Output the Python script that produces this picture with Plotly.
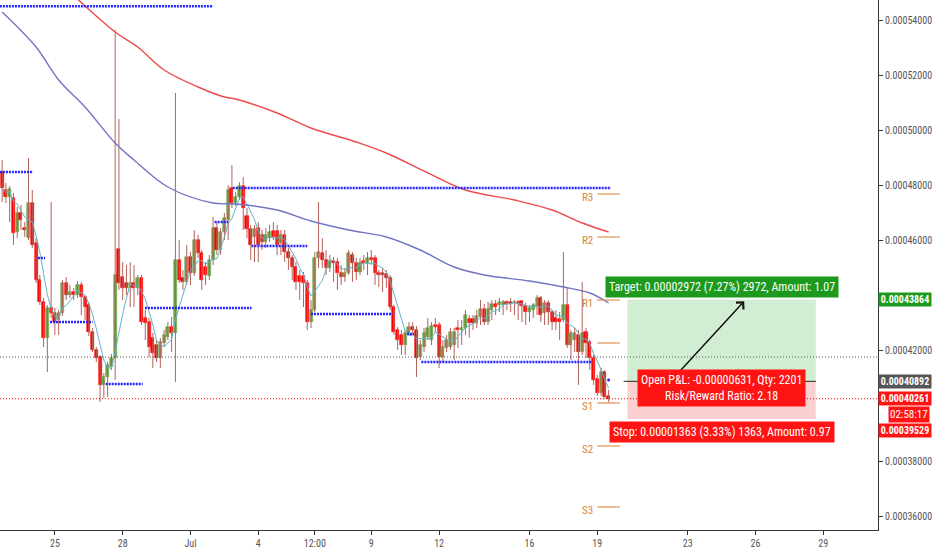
import pandas as pd
import plotly.graph_objects as go

SAT = 1e-8  # values below are in satoshi
t0 = pd.Timestamp("2018-06-22 16:00")
BAR = pd.Timedelta(hours=4)

open_ = [48485,47833,47579,47543,46309,46998,46454,46092,47361,45910,
 44568,43769,42464,43552,43370,43116,43370,44459,44024,44132,
 44024,44387,43951,43661,42681,42028,41774,40759,41048,41411,
 41738,45692,44676,44459,44278,44459,44278,44641,43189,43043,
 42464,42210,41738,42282,42500,42862,42645,45293,44641,44495,
 45402,44821,46019,45547,45039,44712,45293,46454,45656,46309,
 46744,47906,47361,47579,47978,46889,46418,46128,46454,46201,
 45946,46092,46346,46346,45910,46201,45583,45366,45039,44712,
 44712,44459,43043,43479,45366,45547,45293,45003,45257,45220,
 44821,44676,44821,45475,45184,44857,45257,45184,45366,45366,
 44821,44821,44785,44641,43588,42754,42573,42210,42645,42862,
 42754,41774,42137,42500,42391,42935,42935,41774,42101,42137,
 42210,42826,42754,42826,43152,43152,43007,43225,43515,43043,
 43479,43696,43661,43661,43769,43769,43733,43769,43806,43624,
 43406,43479,43588,43915,43370,43733,43406,43189,43152,43116,
 43661,42210,42391,42573,41955,42681,42318,41738,40976,40468,
 41229,40359]
close_ = [47906,47579,47869,46273,46998,46744,46382,47361,45838,44568,
 43769,42464,43552,43370,43043,43370,44459,44024,44132,44024,
 44387,43951,43588,42681,42028,41738,40759,41048,41484,41738,
 44749,44459,44278,44278,44459,44278,44641,43043,43007,42137,
 41919,41738,42318,42573,42862,42645,45293,44568,44495,45402,
 44821,46019,45547,44568,44749,45293,46454,45656,46309,46817,
 47833,47361,47579,47978,47180,46418,45838,46418,45838,45946,
 46201,46309,46128,45838,46201,45583,45366,45039,44495,44495,
 44459,43043,43479,45366,45583,45293,45003,45257,45184,44821,
 44676,44821,45547,45184,44857,45184,45184,45366,45293,44821,
 44749,44749,44641,43588,42681,42391,42210,42645,42862,42754,
 41738,42210,42645,42826,42898,42862,41774,42137,42391,42681,
 42681,42754,42826,43298,43007,43007,43261,43515,43043,43515,
 43696,43588,43769,43769,43696,43696,43769,43696,43624,43406,
 43552,43661,43915,43298,43733,43406,43043,43043,43043,43661,
 42210,42645,42645,41955,42645,42282,41738,40940,40468,41229,
 40323,40261]
high_ = [48921,48087,47978,47724,47216,47289,46671,48994,47833,46092,
 44749,43915,43661,47397,43552,43479,44568,44676,44387,44278,
 44532,44495,44024,43733,42826,42137,41847,41193,41592,41883,
 53638,50409,45220,45112,45220,45112,44749,44749,43479,43189,
 42645,42391,42464,42754,43043,43225,51352,46019,44930,45838,
 45583,46382,46201,45656,45220,45475,46853,46671,46454,46998,
 48015,48740,47760,48123,48304,47180,46563,46563,46671,46382,
 46454,46563,46671,46563,46382,46382,45729,45475,45220,44930,
 44857,44568,43842,45583,47397,46092,45656,45475,45402,45366,
 45112,45003,45656,45583,45366,45366,45475,45583,45656,45475,
 44930,45003,44930,44749,43661,42862,42754,42754,43043,43043,
 42898,42391,42826,43189,43043,43189,43043,42391,42573,42826,
 42826,43116,43116,43479,43298,43298,43479,43842,43696,43769,
 43842,43842,43915,43842,43842,43915,43842,43842,43842,43733,
 43661,43733,44024,43987,43842,43842,43479,43479,43406,45583,
 44314,42754,42826,42754,44495,42826,42391,41847,41121,41375,
 41302,40577]
low_ = [47397,47361,46671,45838,46092,46382,46128,46019,45729,44459,
 43661,42137,41229,43189,42573,42573,43261,43842,43915,43842,
 43915,43298,43116,42536,41955,41592,40141,40287,40323,41302,
 40940,44205,43842,44024,43588,43588,44024,42935,42391,41774,
 41375,41592,41375,42137,42391,41955,40867,44459,44205,44387,
 44387,44712,45366,44205,44387,44568,45112,45475,45475,46019,
 46019,47180,47252,47470,46382,46092,45293,45220,45220,45656,
 45729,45946,46019,45475,45475,45220,44930,44568,44205,43842,
 43588,42754,42826,43406,45003,45003,44749,44857,44495,44205,
 44387,44495,44749,44495,44568,44749,44930,44749,45112,44387,
 44314,44132,44278,43479,42573,42028,41847,41847,42573,42573,
 41048,41665,41955,42391,42210,42681,41375,41592,41955,42028,
 41665,42101,42210,42573,42464,42754,42826,42935,42935,42935,
 43116,43298,43406,43298,43479,43406,43298,43116,43043,42935,
 43043,43189,43298,43043,42935,42935,42754,42754,42391,43043,
 42101,41665,41955,40759,41847,41738,41302,40759,40359,40359,
 40250,40141]

# moving averages (bar index, satoshi)
ma_blue_bar = [0, 9, 15, 22, 30, 35, 44, 56, 62, 73, 82, 92, 102, 111, 120, 128, 140, 149, 156, 161]
ma_blue_val = [54291,53021,51824,50844,49538,48921,47942,47361,47325,47107,46708,46382,46128,45656,45039,44749,44531,44314,44096,43733]
ma_red_bar = [18, 30, 36, 43, 52, 59, 62, 73, 82, 94, 102, 113, 123, 136, 146, 154, 161]
ma_red_val = [55016,53565,53021,52186,51570,51207,51134,50626,50082,49574,49175,48450,47833,47470,47107,46636,46309]
SMA_LEN = 5

# blue dotted levels (value, from bar, to bar)
lvl_val = [54500, 48486, 45366, 43044, 40794, 43552, 46671, 47906, 45801, 43334, 42608, 41593]
lvl_from = [-0.6, -0.6, 9.5, 12.7, 27.5, 37.9, 56.4, 61.2, 66.2, 82, 107.5, 111.3]
lvl_to = [56, 8.2, 11.4, 24, 37.3, 66.2, 60, 161.6, 81, 103.6, 109.4, 156.5]
lvl_single = (161, 40940)

# daily pivots
piv_names = ["R3", "R2", "R1", "", "S1", "S2", "S3"]
piv_vals = [47688, 46128, 43842, 42282, 40105, 38545, 36332]
piv_start, piv_end = "2018-07-19 00:00", "2018-07-20 00:00"

gray_level = 41774
last_price = 40261
entry, target, stop = 40892, 43864, 39529
pos_start, pos_end = pd.Timestamp("2018-07-20 08:00"), pd.Timestamp("2018-07-28 16:00")
pos_line_start = pd.Timestamp("2018-07-20 04:00")

tick_dates = ["2018-06-25", "2018-06-28", "2018-07-01", "2018-07-04", "2018-07-06 12:00", "2018-07-09",
              "2018-07-12", "2018-07-16", "2018-07-19", "2018-07-23", "2018-07-26", "2018-07-29"]
tick_text = ["25", "28", "Jul", "4", "12:00", "9", "12", "16", "19", "23", "26", "29"]
y_ticks = [0.00036, 0.00038, 0.00042, 0.00046, 0.00048, 0.00050, 0.00052, 0.00054]

FONT = "Liberation Sans Narrow, Arial Narrow, Roboto Condensed, sans-serif"
GREEN, RED = "#6ca64a", "#ff0000"

times = [t0 + BAR * i for i in range(len(close_))]
bt = lambda b: t0 + BAR * b
sp = lambda v: v * SAT

fig = go.Figure()

# wicks
wx, wy = [], []
for t, h, l in zip(times, high_, low_):
    wx += [t, t, None]
    wy += [sp(h), sp(l), None]
fig.add_trace(go.Scatter(x=wx, y=wy, mode="lines", line=dict(color="#b3625a", width=1), hoverinfo="skip"))

# bodies as bars (base = lower of open/close)
body_base = [sp(min(o, c)) for o, c in zip(open_, close_)]
body_len = [sp(abs(c - o)) for o, c in zip(open_, close_)]
body_col = [GREEN if c >= o else RED for o, c in zip(open_, close_)]
fig.add_trace(go.Bar(x=times, y=body_len, base=body_base, width=BAR.total_seconds() * 1000 * 0.8,
                     marker=dict(color=body_col, line=dict(color=body_col, width=0.6))))

sma = pd.Series(close_).rolling(SMA_LEN, min_periods=1).mean()
fig.add_trace(go.Scatter(x=times, y=[sp(v) for v in sma], mode="lines", line=dict(color="#63b3c9", width=1)))
fig.add_trace(go.Scatter(x=[bt(b) for b in ma_blue_bar], y=[sp(v) for v in ma_blue_val], mode="lines",
                         line=dict(color="#7075c4", width=1.4, shape="spline")))
fig.add_trace(go.Scatter(x=[bt(b) for b in ma_red_bar], y=[sp(v) for v in ma_red_val], mode="lines",
                         line=dict(color="#ef4a4a", width=1.4, shape="spline")))

for v, a, b in zip(lvl_val, lvl_from, lvl_to):
    fig.add_trace(go.Scatter(x=[bt(a), bt(b)], y=[sp(v), sp(v)], mode="lines",
                             line=dict(color="#2424ff", width=2.6, dash="2px,1px")))
fig.add_trace(go.Scatter(x=[bt(lvl_single[0])], y=[sp(lvl_single[1])], mode="markers",
                         marker=dict(color="#2424ff", size=3)))

# pivots
for n, v in zip(piv_names, piv_vals):
    fig.add_trace(go.Scatter(x=[piv_start, piv_end], y=[sp(v), sp(v)], mode="lines",
                             line=dict(color="#e0934d", width=1.2)))
    if n:
        fig.add_annotation(x=piv_start, y=sp(v), text=n, showarrow=False, xanchor="right", xshift=-2, yshift=-3,
                           font=dict(family=FONT, size=11, color="#d4883c"))

# position box
fig.add_shape(type="rect", x0=pos_start, x1=pos_end, y0=sp(entry), y1=sp(target), line_width=0,
              fillcolor="#d2eed2", layer="below")
fig.add_shape(type="rect", x0=pos_start, x1=pos_end, y0=sp(stop), y1=sp(entry), line_width=0,
              fillcolor="#fbd0d0", layer="below")
fig.add_trace(go.Scatter(x=[pos_line_start, pos_end], y=[sp(entry), sp(entry)], mode="lines",
                         line=dict(color="#222", width=1)))

# horizontal dotted lines
fig.add_shape(type="line", xref="paper", x0=0, x1=1, y0=sp(gray_level), y1=sp(gray_level),
              line=dict(color="#555", width=1, dash="1px,2px"))
fig.add_shape(type="line", xref="paper", x0=0, x1=1, y0=sp(last_price), y1=sp(last_price),
              line=dict(color="#ff0000", width=1, dash="1px,2px"))

mid = pos_start + (pos_end - pos_start) / 2
fig.add_annotation(x=pd.Timestamp("2018-07-25 12:00"), y=sp(43800), ax=pd.Timestamp("2018-07-22 11:00"), ay=sp(41085),
                   axref="x", ayref="y", text="", showarrow=True, arrowhead=4, arrowsize=1.3, arrowwidth=1.5,
                   arrowcolor="#111")
fig.add_annotation(x=mid, y=sp(target), yanchor="bottom", yshift=1, showarrow=False,
                   text="Target: 0.00002972 (7.27%) 2972, Amount: 1.07", bgcolor="#1d9a1d", borderpad=3,
                   font=dict(family=FONT, size=12, color="white"))
fig.add_annotation(x=mid, y=sp(entry), yanchor="middle", yshift=-7, showarrow=False,
                   text="Open P&L: -0.00000631, Qty: 2201<br>Risk/Reward Ratio: 2.18", bgcolor="#ff1414",
                   borderpad=3, font=dict(family=FONT, size=12, color="white"))
fig.add_annotation(x=mid, y=sp(stop), yanchor="top", yshift=-2, showarrow=False,
                   text="Stop: 0.00001363 (3.33%) 1363, Amount: 0.97", bgcolor="#ff1414", borderpad=3,
                   font=dict(family=FONT, size=12, color="white"))

# right-axis price labels
def axis_label(val, text, color, yshift=0):
    fig.add_annotation(xref="paper", x=1, xanchor="left", y=sp(val), yanchor="middle", yshift=yshift,
                       text="<b>" + text + "</b>", showarrow=False, bgcolor=color, borderpad=1, width=50,
                       align="center", font=dict(family=FONT, size=10, color="white"))

axis_label(target, "0.00043864", "#1d9a1d")
axis_label(entry, "0.00040892", "#555555")
axis_label(last_price, "0.00040261", "#ff1414")
fig.add_annotation(xref="paper", x=1, xanchor="right", xshift=52, y=sp(last_price), yanchor="middle", yshift=-16,
                   text="02:58:17", showarrow=False, bgcolor="#ff1414", borderpad=1,
                   font=dict(family=FONT, size=11, color="white"))
axis_label(stop, "0.00039529", "#ff1414", yshift=-16 - 15 + 19)

fig.update_layout(
    width=932, height=550, margin=dict(l=0, r=52, t=0, b=20),
    paper_bgcolor="white", plot_bgcolor="white", showlegend=False, bargap=0,
    xaxis=dict(type="date", range=["2018-06-22 13:43", "2018-07-31 10:05"], rangeslider=dict(visible=False),
               showgrid=False, zeroline=False, showline=True, linecolor="#333", linewidth=1,
               ticks="outside", ticklen=4, tickcolor="#333", tickvals=tick_dates, ticktext=tick_text,
               tickfont=dict(family=FONT, size=10, color="#555")),
    yaxis=dict(side="right", range=[0.00035498, 0.00054726], showgrid=False, zeroline=False, showline=True,
               linecolor="#333", linewidth=1, ticks="outside", ticklen=4, tickcolor="#333",
               tickvals=y_ticks, ticktext=[f"{v:.8f}" for v in y_ticks],
               tickfont=dict(family=FONT, size=10, color="#555")),
)

fig.write_html("out.html", config={"displayModeBar": False},
               post_script="document.body.style.margin='0';document.body.style.padding='0';")
